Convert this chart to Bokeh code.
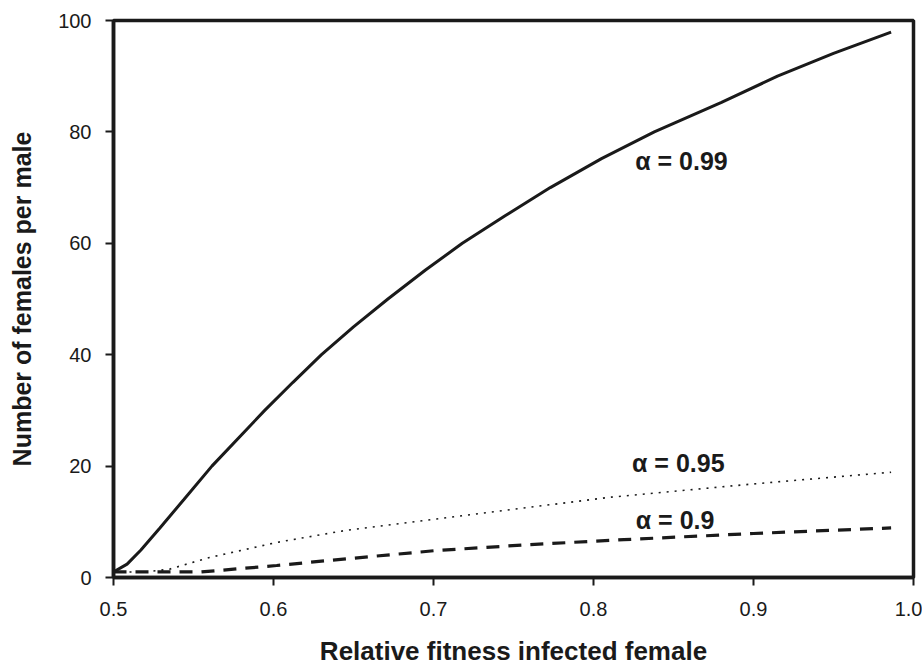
from bokeh.plotting import figure
from bokeh.models import Range1d, FixedTicker, PrintfTickFormatter
from bokeh.embed import file_html
from bokeh.resources import INLINE
from bokeh.core.properties import value

# alpha = 0.99 (solid)
x_a99 = [0.500, 0.5085, 0.517, 0.529, 0.544, 0.5615, 0.5945, 0.612, 0.630, 0.650,
         0.6715, 0.695, 0.718, 0.745, 0.773, 0.805, 0.838, 0.880, 0.915, 0.950, 0.986]
y_a99 = [1.0, 2.4, 4.9, 8.9, 14.0, 20.0, 30.0, 35.0, 40.0, 45.0,
         50.0, 55.2, 60.0, 65.0, 70.0, 75.2, 80.0, 85.3, 90.0, 94.1, 97.9]

# alpha = 0.95 (dotted)
x_a95 = [0.500, 0.520, 0.535, 0.560, 0.602, 0.644, 0.702, 0.760, 0.810, 0.900, 0.986]
y_a95 = [1.0, 1.0, 1.5, 3.6, 6.3, 8.4, 10.5, 12.6, 14.4, 16.8, 18.9]

# alpha = 0.9 (dashed)
x_a90 = [0.500, 0.555, 0.602, 0.636, 0.702, 0.760, 0.819, 0.900, 0.986]
y_a90 = [1.0, 1.0, 2.15, 3.1, 4.85, 5.9, 6.8, 7.9, 8.9]

label_texts = ["α = 0.99", "α = 0.95", "α = 0.9"]
label_x = [0.855, 0.853, 0.851]
label_y = [74.8, 20.5, 10.3]

x_ticks = [0.5, 0.6, 0.7, 0.8, 0.9, 1.0]
y_ticks = [0, 20, 40, 60, 80, 100]

FONT = "Liberation Sans"

p = figure(width=922, height=668, output_backend="svg", toolbar_location=None,
           x_range=Range1d(0.5, 1.0), y_range=Range1d(0, 100),
           min_border_left=113, min_border_right=9, min_border_top=20,
           min_border_bottom=91)

p.line(x_a99, y_a99, line_color="#1a1a1a", line_width=3)
p.line(x_a95, y_a95, line_color="#1a1a1a", line_width=1.6, line_dash="2 6")
p.line(x_a90, y_a90, line_color="#1a1a1a", line_width=3.2, line_dash="13 9")

p.text(x=label_x, y=label_y, text=label_texts, text_align="center",
       text_baseline="middle", text_font=value(FONT), text_font_style="bold",
       text_font_size="25px", text_color="#1a1a1a")

p.grid.visible = False
p.outline_line_color = "#1a1a1a"
p.outline_line_width = 3.5
p.outline_line_alpha = 1.0
p.background_fill_color = "white"
p.border_fill_color = "white"

p.xaxis.ticker = FixedTicker(ticks=x_ticks)
p.yaxis.ticker = FixedTicker(ticks=y_ticks)
p.xaxis.formatter = PrintfTickFormatter(format="%.1f")
p.yaxis.formatter = PrintfTickFormatter(format="%d")

for ax in (p.xaxis[0], p.yaxis[0]):
    ax.axis_line_color = "#1a1a1a"
    ax.axis_line_width = 3.5
    ax.major_tick_line_color = "#1a1a1a"
    ax.major_tick_line_width = 2
    ax.major_tick_out = 8
    ax.major_tick_in = 0
    ax.minor_tick_line_color = None
    ax.major_label_text_font = FONT
    ax.major_label_text_font_size = "20px"
    ax.major_label_text_color = "#1a1a1a"
    ax.axis_label_text_font = FONT
    ax.axis_label_text_font_style = "bold"
    ax.axis_label_text_font_size = "25px"
    ax.axis_label_text_color = "#1a1a1a"

p.xaxis.axis_label_text_font_size = "26px"
p.xaxis.axis_label = "Relative fitness infected female"
p.yaxis.axis_label = "Number of females per male"
p.xaxis.major_label_standoff = 16
p.yaxis.major_label_standoff = 14
p.xaxis.axis_label_standoff = 17
p.yaxis.axis_label_standoff = 19

open("out.html", "w").write(file_html(p, INLINE))
